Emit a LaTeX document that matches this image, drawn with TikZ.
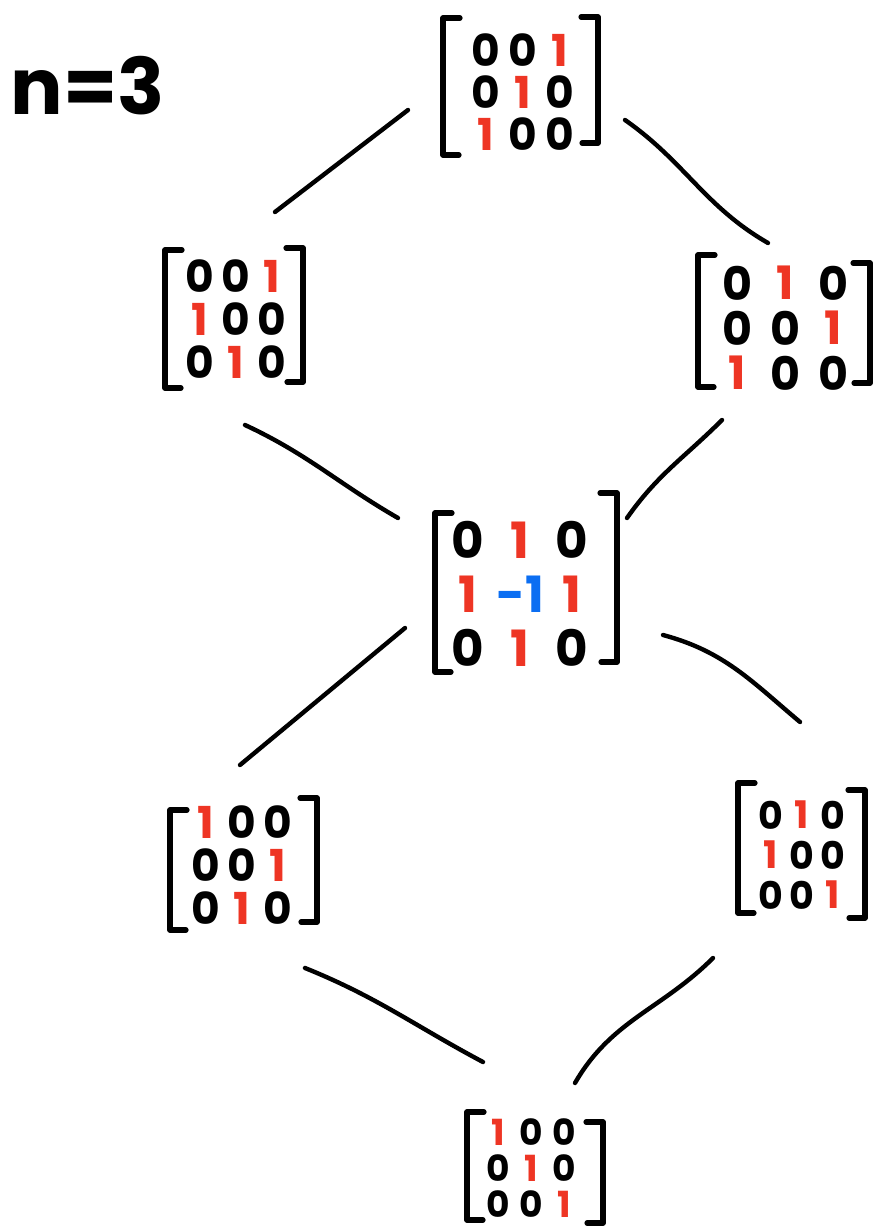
\documentclass[tikz,border=0pt]{standalone}
\usepackage{fontspec}
\setmainfont{Poppins}
\usetikzlibrary{matrix,calc}
\definecolor{inkred}{HTML}{EE3524}
\definecolor{inkblue}{HTML}{0B6EF2}
\tikzset{
  digitgrid/.style n args={3}{matrix of nodes, inner sep=0pt, column sep=0pt, row sep=0pt,
    nodes={minimum width=#1pt, minimum height=#2pt, inner sep=0pt, anchor=center,
           font=\fontsize{#3}{#3}\selectfont\bfseries}},
  one/.style={text=inkred},
  neg/.style={text=inkblue},
  bracket/.style={line width=5.2pt, line cap=round, line join=round},
  link/.style={line width=4.4pt, line cap=round},
}
% square brackets round a matrix: name, left x, right x,
% left top y, left bottom y, right top y, right bottom y (offsets from the centre)
\newcommand\brk[7]{%
  \draw[bracket] ($(#1.center)+(#2+17,#4)$) -- ($(#1.center)+(#2,#4)$)
     -- ($(#1.center)+(#2,#5)$) -- ($(#1.center)+(#2+16,#5)$);
  \draw[bracket] ($(#1.center)+(#3-17,#6)$) -- ($(#1.center)+(#3,#6)$)
     -- ($(#1.center)+(#3,#7)$) -- ($(#1.center)+(#3-16,#7)$);}
\begin{document}
\begin{tikzpicture}[x=1pt,y=1pt]
\useasboundingbox (0,0) rectangle (874,-1230);

\node (n) at (88,-86) {\fontsize{78}{78}\selectfont\bfseries n=3};

\matrix (top) [digitgrid={37}{42}{44}] at (523,-92) {
  0 & 0 & |[one]| 1 \\
  0 & |[one]| 1 & 0 \\
  |[one]| 1 & 0 & 0 \\
};
\matrix (L1) [digitgrid={36}{43}{44}] at (236,-319) {
  0 & 0 & |[one]| 1 \\
  |[one]| 1 & 0 & 0 \\
  0 & |[one]| 1 & 0 \\
};
\matrix (R1) [digitgrid={48}{45}{46}] at (785,-328) {
  0 & |[one]| 1 & 0 \\
  0 & 0 & |[one]| 1 \\
  |[one]| 1 & 0 & 0 \\
};
\matrix (M) [digitgrid={52}{54}{50}] at (520,-594) {
  0 & |[one]| 1 & 0 \\
  |[one]| 1 & |[neg]| -1 & |[one]| 1 \\
  0 & |[one]| 1 & 0 \\
};
\matrix (L2) [digitgrid={36}{43}{44}] at (242,-865) {
  |[one]| 1 & 0 & 0 \\
  0 & 0 & |[one]| 1 \\
  0 & |[one]| 1 & 0 \\
};
\matrix (R2) [digitgrid={31}{40}{38}] at (802,-855) {
  0 & |[one]| 1 & 0 \\
  |[one]| 1 & 0 & 0 \\
  0 & 0 & |[one]| 1 \\
};
\matrix (B) [digitgrid={33}{36}{36}] at (531,-1168) {
  |[one]| 1 & 0 & 0 \\
  0 & |[one]| 1 & 0 \\
  0 & 0 & |[one]| 1 \\
};

\brk{top}{-80}{75}{74}{-63}{75}{-51}
\brk{L1}{-71}{67}{69}{-69}{71}{-63}
\brk{R1}{-87}{85}{73}{-59}{65}{-55}
\brk{M}{-85}{97}{81}{-78}{101}{-68}
\brk{L2}{-72}{75}{55}{-65}{67}{-57}
\brk{R2}{-64}{63}{72}{-58}{65}{-63}
\brk{B}{-64}{72}{56}{-52}{46}{-55}

\draw[link] ($(top.center)+(-115,-18)$) -- ($(L1.center)+(39,107)$);
\draw[link] ($(top.center)+(102,-28)$) to[out=-35,in=150] ($(R1.center)+(-17,85)$);
\draw[link] ($(L1.center)+(9,-106)$) to[out=-25,in=150] ($(M.center)+(-122,76)$);
\draw[link] ($(R1.center)+(-63,-92)$) to[out=-135,in=55] ($(M.center)+(107,76)$);
\draw[link] ($(M.center)+(-115,-34)$) -- ($(L2.center)+(-2,100)$);
\draw[link] ($(M.center)+(143,-41)$) to[out=-15,in=140] ($(R2.center)+(-2,133)$);
\draw[link] ($(L2.center)+(63,-103)$) to[out=-22,in=152] ($(B.center)+(-48,106)$);
\draw[link] ($(R2.center)+(-89,-103)$) to[out=-135,in=60] ($(B.center)+(44,85)$);
\end{tikzpicture}
\end{document}
